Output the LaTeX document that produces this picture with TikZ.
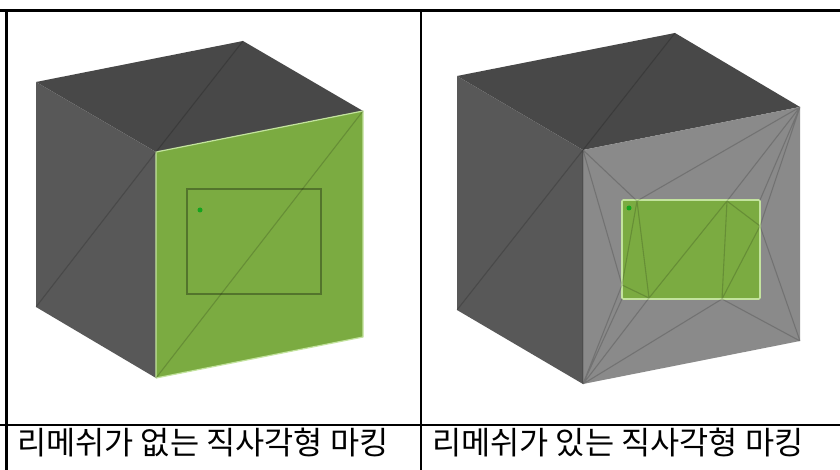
\documentclass[tikz,border=0pt]{standalone}
\usepackage{fontspec}
\newfontfamily\cjk{Noto Sans CJK KR}
\tikzset{
  topface/.style={fill=topgray},
  leftface/.style={fill=leftgray},
  frontface/.style={fill=frontgray},
  greenface/.style={fill=facegreen},
  edgelit/.style={draw=litgreen,line width=1.2pt,line join=round},
  meshline/.style={draw=black,opacity=.17,line width=1.1pt},
  rectline/.style={draw=black,opacity=.32,line width=1.3pt},
  tablerule/.style={draw=black,line width=2.2pt},
  caption/.style={font=\cjk\fontsize{31.7pt}{34pt}\selectfont,anchor=base west,inner sep=0pt},
  markdot/.style={circle,fill=dotgreen,inner sep=0pt,minimum size=5pt},
}
\definecolor{topgray}{HTML}{484848}
\definecolor{leftgray}{HTML}{585858}
\definecolor{frontgray}{HTML}{8A8A8A}
\definecolor{facegreen}{HTML}{7BAB41}
\definecolor{litgreen}{HTML}{C3E39E}
\definecolor{dotgreen}{HTML}{14A51E}
\begin{document}
\begin{tikzpicture}[x=1pt,y=-1pt]
\useasboundingbox (0,0) rectangle (840,470);
\fill[white] (0,0) rectangle (840,470);
% left cube
\coordinate (la) at (36,82); \coordinate (lb) at (243,41); \coordinate (lc) at (363,111);
\coordinate (ld) at (156,152); \coordinate (le) at (36,307); \coordinate (lf) at (156,378); \coordinate (lg) at (363,337);
\fill[topface] (la)--(lb)--(lc)--(ld)--cycle;
\fill[leftface] (la)--(ld)--(lf)--(le)--cycle;
\fill[greenface] (ld)--(lc)--(lg)--(lf)--cycle;
\draw[edgelit] (lf)--(ld)--(lc)--(lg)--(lf);
\draw[meshline] (ld)--(lb) (ld)--(le) (lf)--(lc);
\draw[rectline] (187,189) rectangle (321,294);
\node[markdot] (ldot) at (200,210) {};
% right cube
\coordinate (ra) at (457,76); \coordinate (rb) at (675,33); \coordinate (rc) at (800,107);
\coordinate (rd) at (583,150); \coordinate (re) at (457,310); \coordinate (rf) at (583,384); \coordinate (rg) at (800,341);
\coordinate (p1) at (637,201); \coordinate (p2) at (727,201); \coordinate (p3) at (760,226);
\coordinate (p4) at (722,299); \coordinate (p5) at (649,298); \coordinate (p6) at (622,285);
\coordinate (tl) at (622,200); \coordinate (tr) at (760,200); \coordinate (bl) at (622,299);
\fill[topface] (ra)--(rb)--(rc)--(rd)--cycle;
\fill[leftface] (ra)--(rd)--(rf)--(re)--cycle;
\fill[frontface] (rd)--(rc)--(rg)--(rf)--cycle;
\fill[greenface] (622,200) rectangle (760,299);
\draw[draw=litgreen,line width=1.6pt,rounded corners=1.2pt] (622,200) rectangle (760,299);
\draw[meshline] (rd)--(rb) (rd)--(re) (rd)--(rf);
\draw[meshline] (rd)--(p1) (rd)--(p6) (rc)--(p1) (rc)--(p2) (rc)--(tr) (rc)--(p3)
  (rg)--(p3) (rg)--(p4) (rf)--(p6) (rf)--(bl) (rf)--(p5) (rf)--(p4)
  (p1)--(p6) (p1)--(p5) (p6)--(p5) (p5)--(p2) (p2)--(p4) (p2)--(p3) (p3)--(p4);
\node[markdot] (rdot) at (629,208) {};
% table
\draw[tablerule] (0,10.5)--(840,10.5);
\draw[tablerule] (0,425)--(840,425);
\draw[tablerule] (6.5,9.4)--(6.5,470);
\draw[tablerule] (421,9.4)--(421,470);
\node[caption] (c1) at (17,454) {리메쉬가 없는 직사각형 마킹};
\node[caption] (c2) at (432,454) {리메쉬가 있는 직사각형 마킹};
\end{tikzpicture}
\end{document}
